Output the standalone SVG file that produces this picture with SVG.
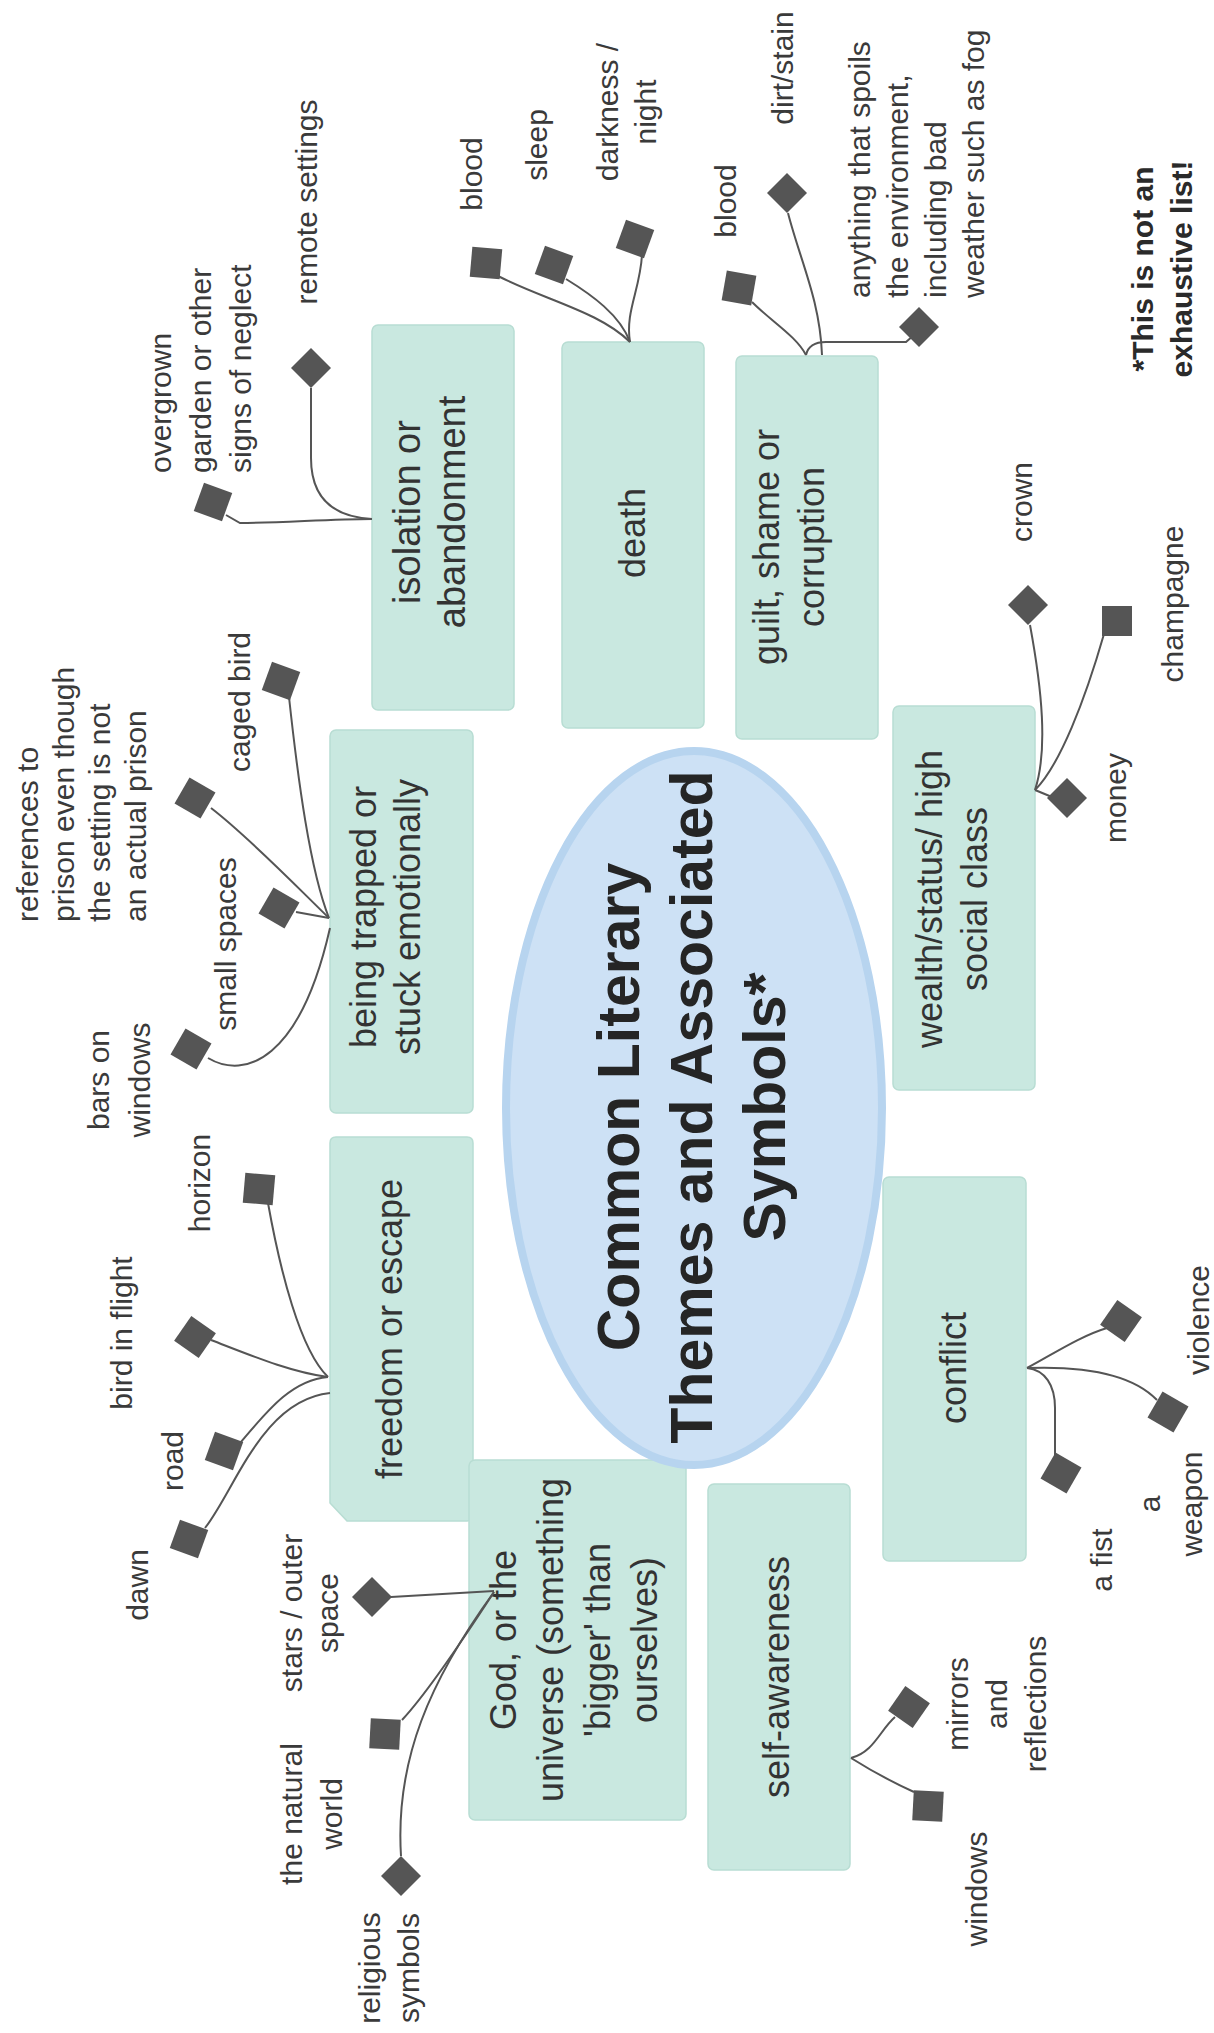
<svg xmlns="http://www.w3.org/2000/svg" xmlns:xlink="http://www.w3.org/1999/xlink" width="1214" height="2033" viewBox="0 0 1214 2033">
<style>
.box{fill:#c9e8e0;stroke:#b8ddd3;stroke-width:1.5}
.bt{font-family:"Liberation Sans",Arial,sans-serif;font-size:36px;fill:#333;text-anchor:middle}
.lbl{font-family:"Liberation Sans",Arial,sans-serif;font-size:30px;fill:#3a3a3a;text-anchor:middle}
.st{text-anchor:start}
.title{font-family:"Liberation Sans",Arial,sans-serif;font-size:59px;font-weight:bold;fill:#252525;text-anchor:middle}
.note{font-family:"Liberation Sans",Arial,sans-serif;font-size:30px;font-weight:bold;fill:#2a2a2a;text-anchor:middle}
.con path{fill:none;stroke:#555;stroke-width:2}
.mk{fill:#555}
</style>
<defs>
<rect id="sq" x="-15" y="-15" width="30" height="30"/>
<polygon id="dm" points="0,-20 20,0 0,20 -20,0"/>
</defs>
<rect width="1214" height="2033" fill="#fff"/>

<g id="node-isolation"><rect class="box" x="372" y="325" width="142" height="385" rx="6"/>
<text class="bt" style="font-size:38px" transform="translate(420 512) rotate(-90)"><tspan x="0">isolation or</tspan><tspan x="0" dy="45">abandonment</tspan></text></g>
<g id="node-death"><rect class="box" x="562" y="342" width="142" height="386" rx="6"/>
<text class="bt" transform="translate(645 533) rotate(-90)">death</text></g>
<g id="node-guilt"><rect class="box" x="736" y="356" width="142" height="383" rx="6"/>
<text class="bt" transform="translate(779 547) rotate(-90)"><tspan x="0">guilt, shame or</tspan><tspan x="0" dy="45">corruption</tspan></text></g>
<g id="node-trapped"><rect class="box" x="330" y="730" width="143" height="383" rx="6"/>
<text class="bt" transform="translate(376 917) rotate(-90)"><tspan x="0">being trapped or</tspan><tspan x="0" dy="44">stuck emotionally</tspan></text></g>
<g id="node-wealth"><rect class="box" x="893" y="706" width="142" height="384" rx="6"/>
<text class="bt" transform="translate(942 899) rotate(-90)"><tspan x="0">wealth/status/ high</tspan><tspan x="0" dy="45">social class</tspan></text></g>
<g id="node-freedom"><path class="box" d="M336,1137 H467 Q473,1137 473,1143 V1515 Q473,1521 467,1521 H347 L330,1503 V1143 Q330,1137 336,1137 Z"/>
<text class="bt" transform="translate(402 1329) rotate(-90)">freedom or escape</text></g>
<g id="node-conflict"><rect class="box" x="883" y="1177" width="143" height="384" rx="6"/>
<text class="bt" transform="translate(966 1368) rotate(-90)">conflict</text></g>
<g id="node-god"><rect class="box" x="469" y="1460" width="217" height="360" rx="6"/>
<text class="bt" transform="translate(516 1640) rotate(-90)"><tspan x="0">God, or the</tspan><tspan x="0" dy="47">universe (something</tspan><tspan x="0" dy="47">'bigger' than</tspan><tspan x="0" dy="47">ourselves)</tspan></text></g>
<g id="node-self"><rect class="box" x="708" y="1484" width="142" height="386" rx="6"/>
<text class="bt" transform="translate(789 1677) rotate(-90)">self-awareness</text></g>

<g id="node-center"><ellipse cx="694" cy="1108" rx="188" ry="357" fill="#cde1f5" stroke="#b7d4ef" stroke-width="8"/>
<text class="title" transform="translate(639 1107) rotate(-90)"><tspan x="0">Common Literary</tspan><tspan x="0" dy="73">Themes and Associated</tspan><tspan x="0" dy="73">Symbols*</tspan></text></g>

<g id="connectors" class="con">
<path d="M372,519 C330,519 280,523 240,523 L226,515"/>
<path d="M311,388 L311,458 C311,500 335,517 372,519"/>
<path d="M498,276 C545,300 600,312 630,342"/>
<path d="M566,279 C592,295 620,315 630,342"/>
<path d="M642,255 C640,290 625,312 630,342"/>
<path d="M752,302 C772,322 796,336 806,355"/>
<path d="M788,213 C800,260 820,300 822,355"/>
<path d="M806,355 C808,346 814,342 826,342 L906,342 L914,335"/>
<path d="M1030,625 C1042,690 1048,750 1035,790"/>
<path d="M1104,634 C1085,700 1060,765 1035,790"/>
<path d="M1035,790 L1052,797"/>
<path d="M289,697 C298,780 310,870 329,918"/>
<path d="M211,808 C250,838 300,890 329,918"/>
<path d="M296,912 L329,918"/>
<path d="M208,1058 C245,1080 300,1060 330,928"/>
<path d="M268,1203 C280,1270 300,1350 328,1377"/>
<path d="M211,1340 C250,1355 290,1372 328,1377"/>
<path d="M240,1443 C268,1410 292,1380 328,1377"/>
<path d="M205,1528 C235,1490 262,1400 330,1393"/>
<path d="M391,1597 L494,1591"/>
<path d="M402,1720 C430,1690 468,1632 494,1592"/>
<path d="M401,1856 C395,1760 430,1680 494,1592"/>
<path d="M1107,1328 C1080,1336 1050,1356 1027,1368"/>
<path d="M1027,1368 C1080,1366 1130,1372 1157,1400"/>
<path d="M1055,1458 L1055,1408 C1055,1385 1045,1370 1027,1368"/>
<path d="M895,1717 C880,1730 874,1752 851,1758"/>
<path d="M851,1758 C870,1770 892,1782 914,1792"/>
</g>

<g id="markers" class="mk">
<use xlink:href="#sq" transform="translate(213 502) rotate(20)"/>
<use xlink:href="#dm" transform="translate(311 368)"/>
<use xlink:href="#sq" transform="translate(486 263) rotate(5)"/>
<use xlink:href="#sq" transform="translate(554 265) rotate(20)"/>
<use xlink:href="#sq" transform="translate(635 239) rotate(20)"/>
<use xlink:href="#sq" transform="translate(739 288) rotate(10)"/>
<use xlink:href="#dm" transform="translate(787 193)"/>
<use xlink:href="#dm" transform="translate(919 327)"/>
<use xlink:href="#dm" transform="translate(1028 605)"/>
<use xlink:href="#sq" transform="translate(1117 621)"/>
<use xlink:href="#dm" transform="translate(1067 798)"/>
<use xlink:href="#sq" transform="translate(281 681) rotate(20)"/>
<use xlink:href="#sq" transform="translate(195 798) rotate(30)"/>
<use xlink:href="#sq" transform="translate(279 908) rotate(30)"/>
<use xlink:href="#sq" transform="translate(191 1049) rotate(30)"/>
<use xlink:href="#sq" transform="translate(259 1189) rotate(5)"/>
<use xlink:href="#sq" transform="translate(195 1337) rotate(35)"/>
<use xlink:href="#sq" transform="translate(224 1451) rotate(20)"/>
<use xlink:href="#sq" transform="translate(189 1539) rotate(20)"/>
<use xlink:href="#dm" transform="translate(372 1597)"/>
<use xlink:href="#sq" transform="translate(385 1734) rotate(3)"/>
<use xlink:href="#dm" transform="translate(401 1876)"/>
<use xlink:href="#sq" transform="translate(1121 1321) rotate(35)"/>
<use xlink:href="#sq" transform="translate(1168 1412) rotate(30)"/>
<use xlink:href="#sq" transform="translate(1061 1473) rotate(30)"/>
<use xlink:href="#sq" transform="translate(909 1707) rotate(35)"/>
<use xlink:href="#sq" transform="translate(928 1806) rotate(3)"/>
</g>

<g id="labels">
<text class="lbl st" transform="translate(171 473) rotate(-90)"><tspan x="0">overgrown</tspan><tspan x="0" dy="40">garden or other</tspan><tspan x="0" dy="40">signs of neglect</tspan></text>
<text class="lbl" transform="translate(317 202) rotate(-90)">remote settings</text>
<text class="lbl" transform="translate(482 174) rotate(-90)">blood</text>
<text class="lbl" transform="translate(547 145) rotate(-90)">sleep</text>
<text class="lbl" transform="translate(618 112) rotate(-90)"><tspan x="0">darkness /</tspan><tspan x="0" dy="38">night</tspan></text>
<text class="lbl" transform="translate(736 201) rotate(-90)">blood</text>
<text class="lbl" transform="translate(793 68) rotate(-90)">dirt/stain</text>
<text class="lbl st" transform="translate(870 298) rotate(-90)"><tspan x="0">anything that spoils</tspan><tspan x="0" dy="38">the environment,</tspan><tspan x="0" dy="38">including bad</tspan><tspan x="0" dy="38">weather such as fog</tspan></text>
<text class="note" transform="translate(1153 269) rotate(-90)"><tspan x="0">*This is not an</tspan><tspan x="0" dy="39">exhaustive list!</tspan></text>
<text class="lbl" transform="translate(1032 502) rotate(-90)">crown</text>
<text class="lbl" transform="translate(1183 604) rotate(-90)">champagne</text>
<text class="lbl" transform="translate(1126 798) rotate(-90)">money</text>
<text class="lbl st" transform="translate(38 922) rotate(-90)"><tspan x="0">references to</tspan><tspan x="0" dy="36">prison even though</tspan><tspan x="0" dy="36">the setting is not</tspan><tspan x="0" dy="36">an actual prison</tspan></text>
<text class="lbl" transform="translate(250 702) rotate(-90)">caged bird</text>
<text class="lbl" transform="translate(236 944) rotate(-90)">small spaces</text>
<text class="lbl" transform="translate(109 1080) rotate(-90)"><tspan x="0">bars on</tspan><tspan x="0" dy="41">windows</tspan></text>
<text class="lbl" transform="translate(210 1183) rotate(-90)">horizon</text>
<text class="lbl" transform="translate(132 1333) rotate(-90)">bird in flight</text>
<text class="lbl" transform="translate(183 1461) rotate(-90)">road</text>
<text class="lbl" transform="translate(148 1585) rotate(-90)">dawn</text>
<text class="lbl" transform="translate(302 1613) rotate(-90)"><tspan x="0">stars / outer</tspan><tspan x="0" dy="36">space</tspan></text>
<text class="lbl" transform="translate(302 1814) rotate(-90)"><tspan x="0">the natural</tspan><tspan x="0" dy="40">world</tspan></text>
<text class="lbl" transform="translate(380 1968) rotate(-90)"><tspan x="0">religious</tspan><tspan x="0" dy="39">symbols</tspan></text>
<text class="lbl" transform="translate(1209 1320) rotate(-90)">violence</text>
<text class="lbl" transform="translate(1160 1504) rotate(-90)"><tspan x="0">a</tspan><tspan x="0" dy="42">weapon</tspan></text>
<text class="lbl" transform="translate(1112 1560) rotate(-90)">a fist</text>
<text class="lbl" transform="translate(968 1704) rotate(-90)"><tspan x="0">mirrors</tspan><tspan x="0" dy="39">and</tspan><tspan x="0" dy="39">reflections</tspan></text>
<text class="lbl" transform="translate(987 1889) rotate(-90)">windows</text>
</g>
</svg>
